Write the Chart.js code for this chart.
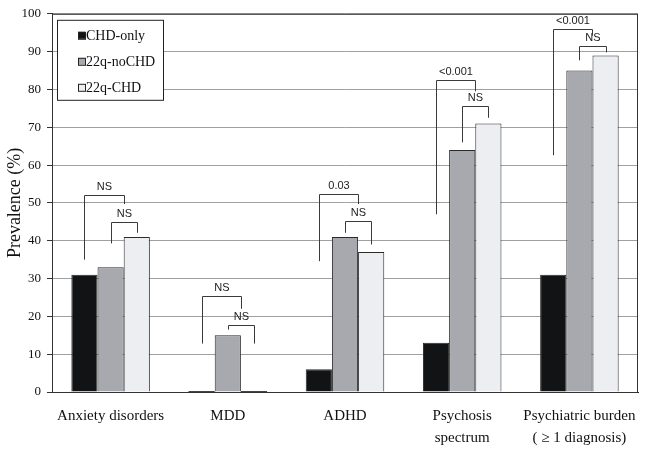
<!DOCTYPE html>
<html>
<head>
<meta charset="utf-8">
<script src="https://cdn.jsdelivr.net/npm/chart.js@4.4.1/dist/chart.umd.min.js"></script>
<style>
  html, body { margin: 0; padding: 0; background: #fff; }
  #wrap { width: 645px; height: 450px; }
</style>
</head>
<body>
<div id="wrap"><canvas id="chart"></canvas></div>
<script>
// Datos
const categories = ['Anxiety disorders', 'MDD', 'ADHD', ['Psychosis', 'spectrum'], ['Psychiatric burden', '( \u2265 1 diagnosis)']];
const seriesNames = ['CHD-only', '22q-noCHD', '22q-CHD'];
const chdOnly = [31, 0, 6, 13, 31];
const noChd = [33, 15, 41, 64, 85];
const withChd = [41, 0, 37, 71, 89];
const seriesColors = ['#121314', '#a7a9ae', '#eceef1'];
const yMin = 0, yMax = 100, yStep = 10;

// Corchetes de significancia (CHD-only vs 22q, y noCHD vs CHD)
const outerLabels = ['NS', 'NS', '0.03', '<0.001', '<0.001'];
const outerTop = [52, 25.4, 52.4, 82.6, 96];
const outerLeftEnd = [35, 12.8, 34.6, 47, 62.6];
const outerRightEnd = [49.7, 22, 49.7, 79.5, 94.2];
const innerLabels = ['NS', 'NS', 'NS', 'NS', 'NS'];
const innerTop = [45, 17.8, 45.3, 75.7, 91.4];
const innerLeftEnd = [39.3, 16.5, 42.1, 66, 87.7];
const innerRightEnd = [42.1, 12.8, 39, 72.5, 89.8];

const serif = "'Liberation Serif', 'Times New Roman', serif";

function drawBracket(ctx, y, x1, x2, top, leftEnd, rightEnd, label) {
  const yt = Math.round(y.getPixelForValue(top)) + 0.5;
  ctx.beginPath();
  ctx.moveTo(x1, y.getPixelForValue(leftEnd));
  ctx.lineTo(x1, yt);
  ctx.lineTo(x2, yt);
  ctx.lineTo(x2, y.getPixelForValue(rightEnd));
  ctx.stroke();
  ctx.fillText(label, (x1 + x2) / 2, yt - 3);
}

const extrasPlugin = {
  id: 'extras',
  afterDatasetsDraw(chart) {
    const { ctx, chartArea, scales } = chart;
    const y = scales.y;
    const m0 = chart.getDatasetMeta(0).data;
    const m1 = chart.getDatasetMeta(1).data;
    const m2 = chart.getDatasetMeta(2).data;

    ctx.save();
    // marco del area
    ctx.strokeStyle = '#333';
    ctx.lineWidth = 1;
    ctx.strokeRect(chartArea.left + 0.5, chartArea.top + 0.5, chartArea.right - chartArea.left - 1, chartArea.bottom - chartArea.top);

    // barras en cero: linea fina sobre el eje
    ctx.strokeStyle = '#444';
    [m0, m1, m2].forEach((meta, k) => {
      meta.forEach((bar, i) => {
        const v = [chdOnly, noChd, withChd][k][i];
        if (v === 0) {
          ctx.beginPath();
          ctx.moveTo(bar.x - bar.width / 2, bar.base - 0.5);
          ctx.lineTo(bar.x + bar.width / 2, bar.base - 0.5);
          ctx.stroke();
        }
      });
    });

    // corchetes
    ctx.strokeStyle = '#3a3a3a';
    ctx.fillStyle = '#222';
    ctx.font = "11px 'Liberation Sans', Arial, sans-serif";
    ctx.textAlign = 'center';
    ctx.textBaseline = 'bottom';
    categories.forEach((c, i) => {
      const xb = Math.round(m0[i].x) + 0.5;
      const xg = Math.round(m1[i].x) + 0.5;
      const xl = Math.round(m2[i].x) + 0.5;
      const xm = Math.round((m1[i].x + m2[i].x) / 2) + 0.5;
      drawBracket(ctx, y, xg, xl, innerTop[i], innerLeftEnd[i], innerRightEnd[i], innerLabels[i]);
      drawBracket(ctx, y, xb, xm, outerTop[i], outerLeftEnd[i], outerRightEnd[i], outerLabels[i]);
    });

    // leyenda
    const lx = chartArea.left + 5, ly = chartArea.top + 6;
    ctx.fillStyle = '#fff';
    ctx.fillRect(lx, ly, 106, 80);
    ctx.strokeStyle = '#222';
    ctx.strokeRect(lx + 0.5, ly + 0.5, 106, 80);
    ctx.font = '14px ' + serif;
    ctx.textAlign = 'left';
    ctx.textBaseline = 'middle';
    seriesNames.forEach((name, k) => {
      const ry = ly + 16 + k * 26;
      ctx.fillStyle = seriesColors[k];
      ctx.fillRect(lx + 21, ry - 4, 7, 7);
      ctx.strokeStyle = '#222';
      ctx.strokeRect(lx + 21.5, ry - 3.5, 7, 7);
      ctx.fillStyle = '#111';
      ctx.fillText(name, lx + 29, ry + 1);
    });
    ctx.restore();
  }
};

const ctx = document.getElementById('chart').getContext('2d');
new Chart(ctx, {
  type: 'bar',
  data: {
    labels: categories,
    datasets: [
      { label: seriesNames[0], data: chdOnly, backgroundColor: seriesColors[0] },
      { label: seriesNames[1], data: noChd, backgroundColor: seriesColors[1] },
      { label: seriesNames[2], data: withChd, backgroundColor: seriesColors[2] }
    ]
  },
  options: {
    responsive: true,
    maintainAspectRatio: false,
    animation: false,
    layout: { padding: { left: 0, right: 7, top: 10, bottom: 0 } },
    datasets: {
      bar: {
        borderColor: '#2a2a2a',
        borderWidth: 1,
        categoryPercentage: 0.67,
        barPercentage: 1
      }
    },
    plugins: {
      legend: { display: false },
      tooltip: { enabled: false }
    },
    scales: {
      x: {
        grid: { display: false, drawTicks: false },
        border: { color: '#222', width: 1 },
        ticks: {
          color: '#111',
          font: { family: serif, size: 15, lineHeight: 1.45 },
          padding: 13,
          maxRotation: 0,
          autoSkip: false
        },
        afterFit: (s) => { s.height = 58; s.paddingLeft = 0; s.paddingRight = 0; }
      },
      y: {
        min: yMin,
        max: yMax,
        ticks: {
          stepSize: yStep,
          color: '#111',
          font: { family: serif, size: 13 },
          padding: 6
        },
        grid: { color: '#a0a0a0', lineWidth: 1, tickColor: '#333', tickLength: 5 },
        border: { color: '#222', width: 1 },
        title: {
          display: true,
          text: 'Prevalence (%)',
          color: '#111',
          font: { family: serif, size: 18 },
          padding: { top: 4, bottom: 0 }
        },
        afterFit: (s) => { s.width = 52; }
      }
    }
  },
  plugins: [extrasPlugin]
});
</script>
</body>
</html>
